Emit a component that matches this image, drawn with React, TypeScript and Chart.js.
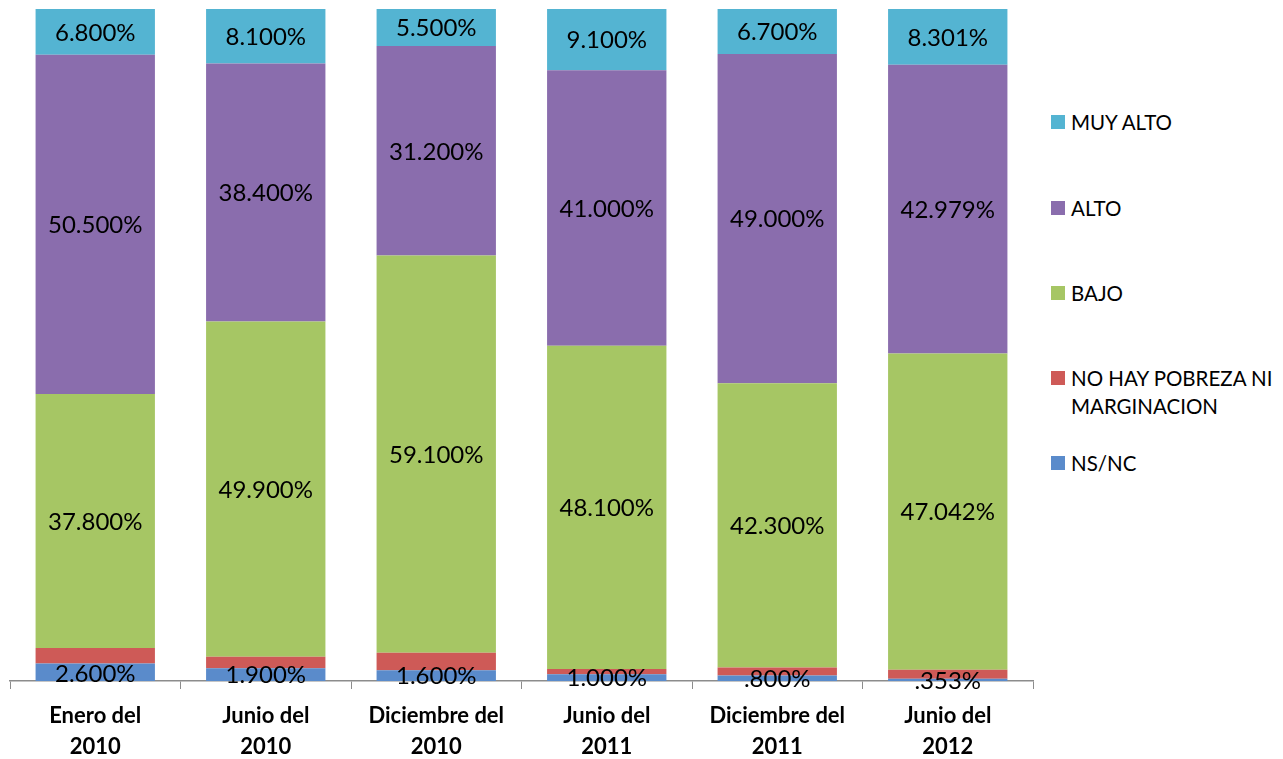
import React, { useEffect, useRef } from "react";
import { Chart, registerables } from "chart.js";
Chart.register(...registerables);

const categories = [
  ["Enero del", "2010"],
  ["Junio del", "2010"],
  ["Diciembre del", "2010"],
  ["Junio del", "2011"],
  ["Diciembre del", "2011"],
  ["Junio del", "2012"],
];
const nsnc = [2.6, 1.9, 1.6, 1.0, 0.8, 0.353];
const noHay = [2.3, 1.7, 2.6, 0.8, 1.2, 1.325];
const bajo = [37.8, 49.9, 59.1, 48.1, 42.3, 47.042];
const alto = [50.5, 38.4, 31.2, 41.0, 49.0, 42.979];
const muyAlto = [6.8, 8.1, 5.5, 9.1, 6.7, 8.301];

const seriesNames = ["NS/NC", "NO HAY POBREZA NI MARGINACION", "BAJO", "ALTO", "MUY ALTO"];
const seriesColors = ["#5A8BCB", "#CE5A57", "#A6C664", "#8A6DAD", "#54B4D2"];
const labeled = [true, false, true, true, true];

const FONT = "Lato, 'Open Sans', sans-serif";

function fmt(v: number) {
  let s = v.toFixed(3);
  if (s.startsWith("0")) s = s.slice(1);
  return s + "%";
}

const labelPlugin = {
  id: "segLabels",
  afterDatasetsDraw(chart: any) {
    const ctx = chart.ctx;
    ctx.save();
    ctx.font = `24px ${FONT}`;
    ctx.fillStyle = "#000";
    ctx.textAlign = "center";
    ctx.textBaseline = "middle";
    chart.data.datasets.forEach((ds: any, di: number) => {
      if (!labeled[di]) return;
      const meta = chart.getDatasetMeta(di);
      meta.data.forEach((el: any, i: number) => {
        const v = ds.data[i];
        let y = (el.y + el.base) / 2;
        if (di === 0) y = Math.max(y, el.base - 8);
        ctx.fillText(fmt(v), el.x, y + 1);
      });
    });
    ctx.restore();
  },
};

export default function App() {
  const ref = useRef<HTMLCanvasElement>(null);
  useEffect(() => {
    const values = [nsnc, noHay, bajo, alto, muyAlto];
    const chart = new Chart(ref.current!, {
      type: "bar",
      data: {
        labels: categories as any,
        datasets: values.map((d, i) => ({
          label: seriesNames[i],
          data: d,
          backgroundColor: seriesColors[i],
          borderWidth: 0,
          barPercentage: 0.7,
          categoryPercentage: 1,
        })),
      },
      options: {
        animation: false,
        responsive: false,
        maintainAspectRatio: false,
        layout: { padding: { left: 10, right: 7, top: 9, bottom: 0 } },
        plugins: { legend: { display: false }, tooltip: { enabled: false } },
        scales: {
          x: {
            stacked: true,
            grid: {
              display: true,
              drawOnChartArea: false,
              drawTicks: true,
              tickLength: 8,
              color: "#8C8C8C",
              offset: true,
            },
            border: { display: true, color: "#8C8C8C", width: 1.5 },
            ticks: {
              color: "#000",
              padding: 12,
              maxRotation: 0,
              autoSkip: false,
              font: { family: FONT, size: 22, weight: "bold", lineHeight: 1.4 },
            },
            afterFit: (s: any) => {
              s.height = 78;
            },
          },
          y: {
            stacked: true,
            display: false,
            min: 0,
            max: 100,
          },
        },
      },
      plugins: [labelPlugin],
    });
    return () => chart.destroy();
  }, []);

  const legendItems = [
    { name: ["MUY ALTO"], color: seriesColors[4], y: 122 },
    { name: ["ALTO"], color: seriesColors[3], y: 208 },
    { name: ["BAJO"], color: seriesColors[2], y: 293 },
    { name: ["NO HAY POBREZA NI", "MARGINACION"], color: seriesColors[1], y: 378 },
    { name: ["NS/NC"], color: seriesColors[0], y: 463 },
  ];

  return (
    <div style={{ position: "absolute", left: 0, top: 0, width: 1283, height: 759, overflow: "hidden", background: "#fff" }}>
      <canvas ref={ref} width={1040} height={759} style={{ position: "absolute", left: 0, top: 0, width: 1040, height: 759 }} />
      {legendItems.map((it, i) => (
        <div key={i} style={{ position: "absolute", left: 1051, top: it.y - 14, fontFamily: FONT, fontSize: 20.5, color: "#000", lineHeight: "28px" }}>
          <span style={{ position: "absolute", left: 0, top: 7, width: 14, height: 14, background: it.color }} />
          <div style={{ marginLeft: 20, whiteSpace: "nowrap" }}>
            {it.name.map((n, j) => (
              <div key={j}>{n}</div>
            ))}
          </div>
        </div>
      ))}
    </div>
  );
}
